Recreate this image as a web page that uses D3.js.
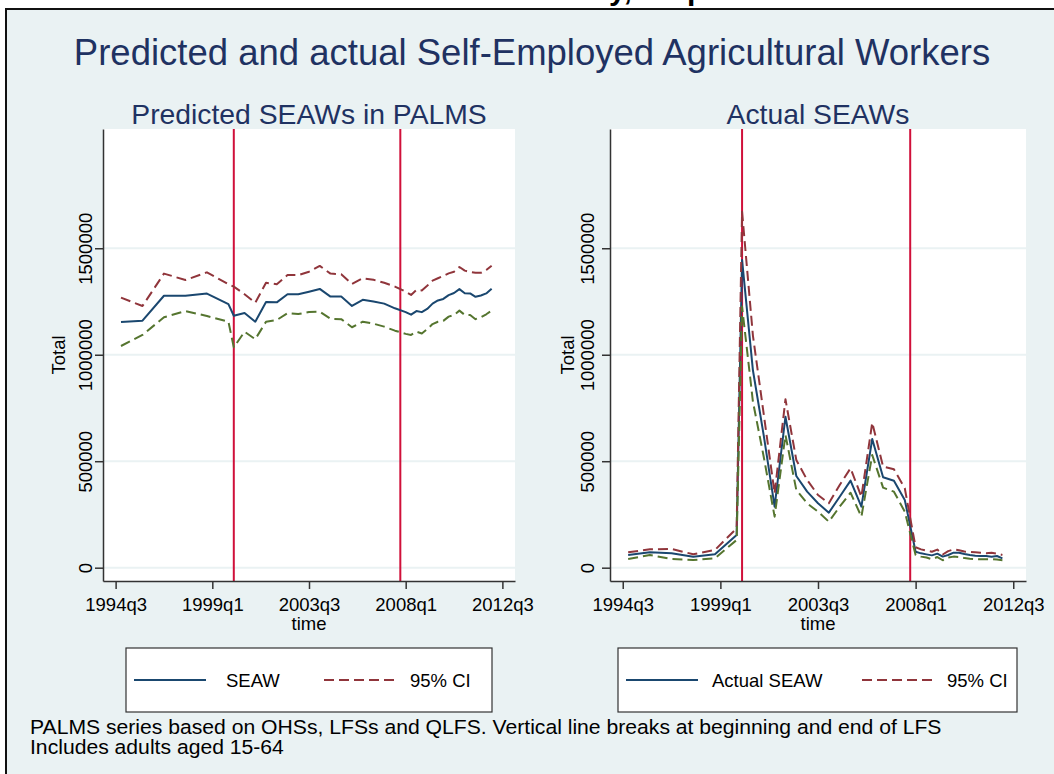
<!DOCTYPE html>
<html>
<head>
<meta charset="utf-8">
<script src="https://cdn.jsdelivr.net/npm/d3@7"></script>
<style>
  body { margin: 0; background: #fff; }
  text { font-family: "Liberation Sans", Arial, Helvetica, sans-serif; }
</style>
</head>
<body>
<svg id="chart" width="1054" height="774"></svg>
<script>
// ---- data ----
const periods = [
  "1994q4", "1995q4", "1996q4", "1997q4", "1998q4", "1999q4",
  "2000q1", "2000q3", "2001q1", "2001q3", "2002q1", "2002q3", "2003q1", "2003q3",
  "2004q1", "2004q3", "2005q1", "2005q3", "2006q1", "2006q3", "2007q1", "2007q3",
  "2008q1", "2008q2", "2008q3", "2008q4", "2009q1", "2009q2", "2009q3", "2009q4",
  "2010q1", "2010q2", "2010q3", "2010q4", "2011q1", "2011q2", "2011q3", "2011q4", "2012q1"
];

const predSeaw = [
  1154000, 1160000, 1277000, 1277000, 1287000, 1238000,
  1183000, 1196000, 1155000, 1248000, 1246000, 1284000, 1284000, 1296000,
  1309000, 1273000, 1273000, 1229000, 1258000, 1250000, 1240000, 1218000,
  1200000, 1188000, 1205000, 1200000, 1215000, 1240000, 1255000, 1262000,
  1280000, 1290000, 1308000, 1289000, 1288000, 1272000, 1278000, 1288000, 1310000
];
const predUpper = [
  1268000, 1229000, 1381000, 1351000, 1387000, 1331000,
  1320000, 1284000, 1244000, 1338000, 1331000, 1374000, 1374000, 1390000,
  1417000, 1381000, 1378000, 1332000, 1359000, 1352000, 1338000, 1320000,
  1296000, 1281000, 1304000, 1302000, 1324000, 1348000, 1359000, 1370000,
  1382000, 1390000, 1412000, 1395000, 1389000, 1385000, 1385000, 1398000, 1418000
];
const predLower = [
  1041000, 1093000, 1176000, 1205000, 1182000, 1155000,
  1035000, 1108000, 1073000, 1155000, 1163000, 1195000, 1191000, 1201000,
  1202000, 1169000, 1167000, 1129000, 1155000, 1146000, 1132000, 1113000,
  1098000, 1093000, 1108000, 1100000, 1120000, 1144000, 1155000, 1159000,
  1179000, 1187000, 1207000, 1187000, 1187000, 1167000, 1176000, 1190000, 1207000
];

const actualSeaw = [
  59600, 72300, 67600, 51700, 62900, 153600,
  1445000, 927000, 620000, 286500, 709000, 430600, 356900, 302400,
  258300, 333400, 408600, 286500, 604400, 424500, 408600, 318000,
  75100, 67300, 62600, 57900, 66000, 52000, 59500, 70400,
  70400, 64000, 59500, 56000, 54800, 54800, 51700, 54800, 43800
];
const actualUpper = [
  72300, 86400, 87800, 62900, 83100, 185000,
  1672000, 1090000, 720000, 349000, 790800, 505800, 411800, 341400,
  302400, 388400, 466800, 333400, 681000, 474300, 462100, 372900,
  95800, 86000, 80000, 75000, 85000, 62000, 78000, 86000,
  82000, 76000, 74000, 72000, 70000, 68000, 70000, 66000, 60000
];
const actualLower = [
  40900, 59600, 40900, 36200, 44100, 130000,
  1226000, 780000, 520000, 239500, 623000, 364900, 302400, 263000,
  216000, 286500, 352200, 239500, 529200, 375700, 356900, 263000,
  59600, 52000, 48000, 40000, 50000, 35000, 48000, 52000,
  50000, 45000, 42000, 40000, 40000, 40000, 40000, 38000, 35000
];

const xTickLabels = ["1994q3", "1999q1", "2003q3", "2008q1", "2012q3"];
const yTickValues = [0, 500000, 1000000, 1500000];
const lfsBreaks = ["2000q1", "2007q4"];

// ---- layout ----
const svg = d3.select("#chart");
const W = 1054, H = 774;
const bg = "#eaf2f3";
const navy = "#1a476f", maroon = "#90353b", forest = "#55752f", xlineColor = "#d0103a";
const titleColor = "#1f3262";
const plotTop = 129, plotBottom = 581;

// stata quarterly index
function qIndex(s) {
  return (+s.slice(0, 4) - 1960) * 4 + (+s.slice(5) - 1);
}

svg.append("rect").attr("width", W).attr("height", H).attr("fill", "#fff");

// cropped text from the page above
svg.append("text").attr("x", 609).attr("y", 0).attr("font-size", 30).attr("font-weight", "bold").text("y,");
svg.append("text").attr("x", 687).attr("y", 0).attr("font-size", 30).attr("font-weight", "bold").text("p");

svg.append("rect")
  .attr("x", 6).attr("y", 9).attr("width", W + 20).attr("height", H + 20)
  .attr("fill", bg).attr("stroke", "#111").attr("stroke-width", 2);

svg.append("text")
  .attr("x", 532).attr("y", 65)
  .attr("text-anchor", "middle")
  .attr("font-size", 36.5)
  .attr("fill", titleColor)
  .text("Predicted and actual Self-Employed Agricultural Workers");

const y = d3.scaleLinear().domain([-62500, 2060000]).range([plotBottom, plotTop]);

function drawPanel(p) {
  const x = d3.scaleLinear().domain([135.65, 212.35]).range([p.x0, p.x1]);
  const g = svg.append("g");

  g.append("rect")
    .attr("x", p.x0).attr("y", plotTop)
    .attr("width", p.x1 - p.x0).attr("height", plotBottom - plotTop)
    .attr("fill", "#fff");

  g.selectAll(".grid").data(yTickValues).enter().append("line")
    .attr("x1", p.x0).attr("x2", p.x1)
    .attr("y1", d => y(d)).attr("y2", d => y(d))
    .attr("stroke", bg).attr("stroke-width", 2);

  g.selectAll(".xline").data(lfsBreaks).enter().append("line")
    .attr("x1", d => x(qIndex(d))).attr("x2", d => x(qIndex(d)))
    .attr("y1", plotTop).attr("y2", plotBottom)
    .attr("stroke", xlineColor).attr("stroke-width", 2);

  const line = d3.line()
    .x((d, i) => x(qIndex(periods[i])))
    .y(d => y(d));

  p.series.forEach(s => {
    g.append("path")
      .datum(s.values)
      .attr("d", line)
      .attr("fill", "none")
      .attr("stroke", s.color)
      .attr("stroke-width", 2)
      .attr("stroke-dasharray", s.dash || null)
      .attr("stroke-linejoin", "round");
  });

  // axes
  const yAxis = g.append("g")
    .attr("transform", "translate(" + p.x0 + ",0)")
    .call(d3.axisLeft(y).tickValues(yTickValues).tickSize(8).tickSizeOuter(0).tickFormat(d3.format("d")));
  yAxis.selectAll("text")
    .attr("x", 0).attr("y", -p.yLabelGap).attr("dy", 0)
    .attr("transform", "rotate(-90)")
    .attr("text-anchor", "middle");

  const xAxis = g.append("g")
    .attr("transform", "translate(0," + plotBottom + ")")
    .call(d3.axisBottom(x).tickValues(xTickLabels.map(qIndex)).tickSize(8).tickSizeOuter(0)
      .tickFormat((d, i) => xTickLabels[i]));
  xAxis.selectAll("text").attr("y", 17);

  [yAxis, xAxis].forEach(a => {
    a.selectAll("text").attr("font-size", 18.5).attr("fill", "#000")
      .attr("font-family", "'Liberation Sans', Arial, sans-serif");
    a.selectAll("line").attr("stroke", "#333").attr("stroke-width", 1.5);
    a.select(".domain").attr("stroke", "#333").attr("stroke-width", 1.5);
  });

  g.append("text")
    .attr("transform", "translate(" + (p.x0 - p.yTitleGap) + "," + ((plotTop + plotBottom) / 2) + ") rotate(-90)")
    .attr("text-anchor", "middle").attr("font-size", 18.5)
    .text("Total");

  g.append("text")
    .attr("x", (p.x0 + p.x1) / 2).attr("y", 630)
    .attr("text-anchor", "middle").attr("font-size", 18.5)
    .text("time");

  g.append("text")
    .attr("x", (p.x0 + p.x1) / 2).attr("y", 124)
    .attr("text-anchor", "middle").attr("font-size", 28.3)
    .attr("fill", titleColor)
    .text(p.title);

  // legend
  const lg = p.legend;
  g.append("rect")
    .attr("x", lg.x0).attr("y", 648).attr("width", lg.x1 - lg.x0).attr("height", 64)
    .attr("fill", "#fff").attr("stroke", "#333").attr("stroke-width", 1.2);
  lg.items.forEach(it => {
    g.append("line")
      .attr("x1", it.lx).attr("x2", it.lx + 72)
      .attr("y1", 680).attr("y2", 680)
      .attr("stroke", it.color).attr("stroke-width", 2)
      .attr("stroke-dasharray", it.dash || null);
    g.append("text")
      .attr("x", it.tx).attr("y", 687)
      .attr("font-size", 18.5)
      .text(it.label);
  });
}

drawPanel({
  x0: 103, x1: 515, yLabelGap: 11, yTitleGap: 38,
  title: "Predicted SEAWs in PALMS",
  series: [
    { values: predSeaw, color: navy },
    { values: predUpper, color: maroon, dash: "10,5" },
    { values: predLower, color: forest, dash: "10,5" }
  ],
  legend: {
    x0: 126, x1: 492,
    items: [
      { lx: 134, tx: 226, color: navy, label: "SEAW" },
      { lx: 324, tx: 410, color: maroon, dash: "10,5", label: "95% CI" }
    ]
  }
});

drawPanel({
  x0: 610, x1: 1026, yLabelGap: 16, yTitleGap: 36,
  title: "Actual SEAWs",
  series: [
    { values: actualSeaw, color: navy },
    { values: actualUpper, color: maroon, dash: "10,5" },
    { values: actualLower, color: forest, dash: "10,5" }
  ],
  legend: {
    x0: 618, x1: 1017,
    items: [
      { lx: 626, tx: 712, color: navy, label: "Actual SEAW" },
      { lx: 862, tx: 947, color: maroon, dash: "10,5", label: "95% CI" }
    ]
  }
});

// notes, slightly widened to the reference's span
const notes = [
  "PALMS series based on OHSs, LFSs and QLFS. Vertical line breaks at beginning and end of LFS",
  "Includes adults aged 15-64"
];
notes.forEach((t, i) => {
  svg.append("text")
    .attr("transform", "translate(30," + (734 + i * 20) + ") scale(1.085,1)")
    .attr("font-size", 19.5)
    .text(t);
});
</script>
</body>
</html>
